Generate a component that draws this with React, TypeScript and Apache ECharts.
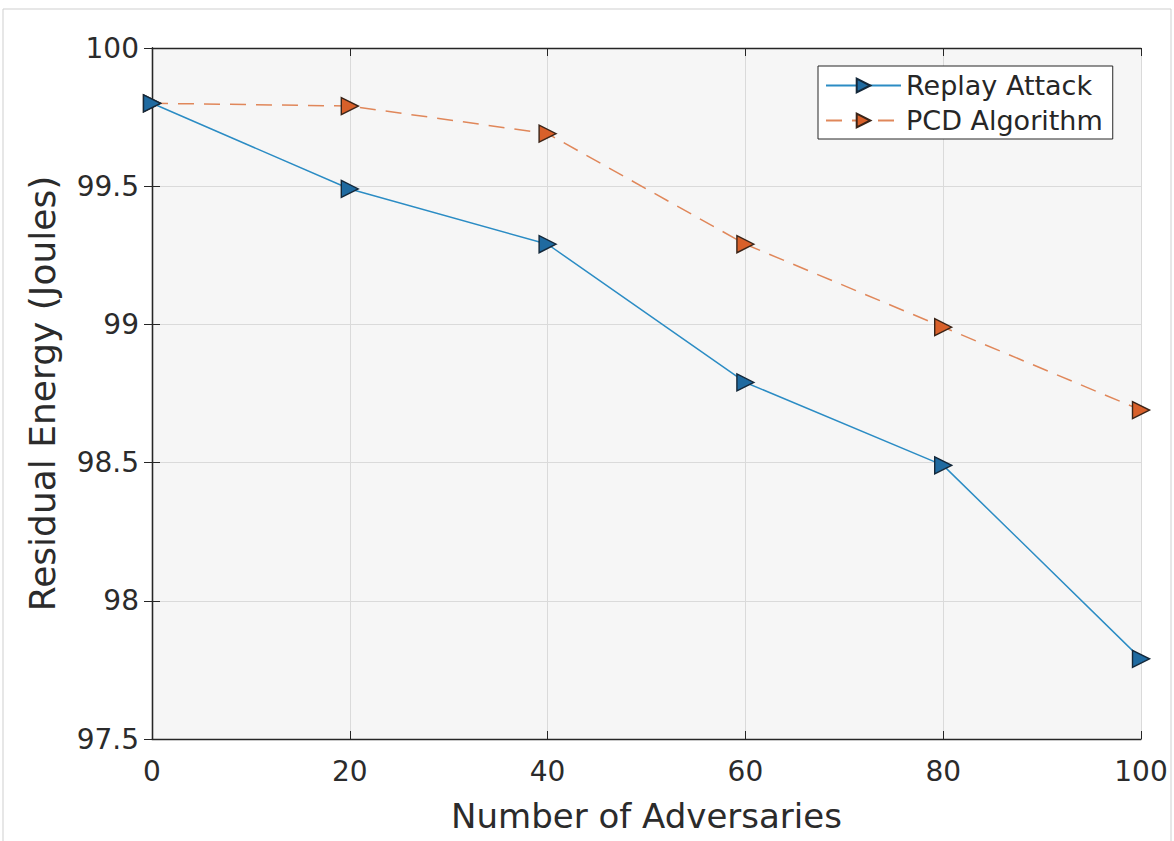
import React, { useEffect, useRef } from "react";
import * as echarts from "echarts";

const xValues = [0, 20, 40, 60, 80, 100];
const replayAttack = [99.8, 99.49, 99.29, 98.79, 98.49, 97.79];
const pcdAlgorithm = [99.8, 99.79, 99.69, 99.29, 98.99, 98.69];
const seriesNames = ["Replay Attack", "PCD Algorithm"];

const FONT = "'DejaVu Sans', 'Liberation Sans', Arial, sans-serif";

export default function App() {
  const ref = useRef<HTMLDivElement>(null);
  useEffect(() => {
    document.body.style.margin = "0";
    const chart = echarts.init(ref.current!, null, { renderer: "svg" });
    const axisLine = { show: true, lineStyle: { color: "#262626", width: 1.3 } };
    const tick = { show: true, inside: true, length: 8, lineStyle: { color: "#262626", width: 1 } };
    chart.setOption({
      animation: false,
      backgroundColor: "#ffffff",
      textStyle: { fontFamily: FONT },
      graphic: [
        {
          type: "rect",
          shape: { x: 3, y: 9, width: 1168, height: 840 },
          style: { fill: "none", stroke: "#cfcfcf", lineWidth: 1 },
          silent: true,
          z: -10,
        },
      ],
      grid: {
        left: 152,
        right: 33,
        top: 48,
        bottom: 102,
        show: true,
        backgroundColor: "#f6f6f6",
        borderWidth: 0,
      },
      legend: {
        orient: "vertical",
        left: 818,
        top: 66,
        backgroundColor: "#ffffff",
        borderColor: "#262626",
        borderWidth: 1,
        borderRadius: 0,
        padding: [6, 10, 5, 7],
        itemGap: 8,
        itemWidth: 75,
        itemHeight: 17,
        textStyle: { fontSize: 27, color: "#262626", fontFamily: FONT },
        data: seriesNames,
      },
      xAxis: [
        {
          type: "value",
          min: 0,
          max: 100,
          interval: 20,
          name: "Number of Adversaries",
          nameLocation: "middle",
          nameGap: 60,
          nameTextStyle: { fontSize: 34, color: "#2b2b2b", fontFamily: FONT },
          axisLine,
          axisTick: tick,
          axisLabel: { fontSize: 28, color: "#2b2b2b", margin: 18, fontFamily: FONT },
          splitLine: { show: true, lineStyle: { color: "#dadada", width: 1 } },
        },
        {
          type: "value",
          position: "top",
          min: 0,
          max: 100,
          interval: 20,
          axisLine,
          axisTick: tick,
          axisLabel: { show: false },
          splitLine: { show: false },
        },
      ],
      yAxis: [
        {
          type: "value",
          min: 97.5,
          max: 100,
          interval: 0.5,
          name: "Residual Energy (Joules)",
          nameLocation: "middle",
          nameGap: 92,
          nameTextStyle: { fontSize: 36, color: "#2b2b2b", fontFamily: FONT },
          axisLine,
          axisTick: tick,
          axisLabel: {
            fontSize: 28,
            color: "#2b2b2b",
            margin: 13,
            fontFamily: FONT,
            formatter: (v: number) => String(Math.round(v * 10) / 10),
          },
          splitLine: { show: true, lineStyle: { color: "#dadada", width: 1 } },
        },
        {
          type: "value",
          position: "right",
          min: 97.5,
          max: 100,
          interval: 0.5,
          axisLine,
          axisTick: tick,
          axisLabel: { show: false },
          splitLine: { show: false },
        },
      ],
      series: [
        {
          name: seriesNames[0],
          type: "line",
          data: xValues.map((x, i) => [x, replayAttack[i]]),
          symbol: "triangle",
          symbolRotate: -90,
          symbolSize: 17,
          lineStyle: { color: "#2b8cc4", width: 1.5 },
          itemStyle: { color: "#1f6aa0", borderColor: "#14283a", borderWidth: 1.4 },
          z: 3,
        },
        {
          name: seriesNames[1],
          type: "line",
          data: xValues.map((x, i) => [x, pcdAlgorithm[i]]),
          symbol: "triangle",
          symbolRotate: -90,
          symbolSize: 17,
          lineStyle: { color: "#e0875a", width: 1.5, type: [16, 10] },
          itemStyle: { color: "#d8602a", borderColor: "#3a2418", borderWidth: 1.4 },
          z: 2,
        },
      ],
    });
    return () => chart.dispose();
  }, []);
  return <div ref={ref} style={{ width: 1174, height: 841 }} />;
}
